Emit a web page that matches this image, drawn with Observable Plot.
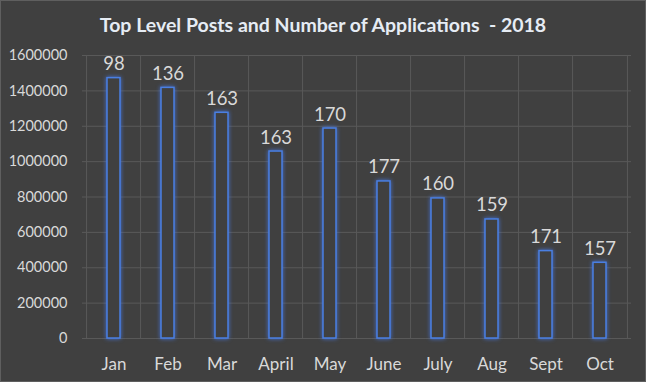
<!DOCTYPE html>
<html><head><meta charset="utf-8">
<script src="https://cdn.jsdelivr.net/npm/d3@7"></script>
<script src="https://cdn.jsdelivr.net/npm/@observablehq/plot@0.6"></script>
<style>
html,body{margin:0;padding:0;background:#404040;}
#wrap{width:646px;height:382px;position:relative;overflow:hidden;background:#404040;font-family:Lato,"Open Sans",sans-serif;}
#title{position:absolute;left:0;top:0;width:646px;height:44px;line-height:49px;text-align:center;font-weight:bold;font-size:19.5px;color:#e6ecf4;}
#chart{position:absolute;left:0;top:44px;}
#border{position:absolute;left:0;top:0;width:646px;height:382px;box-sizing:border-box;border:1px solid #5f5f5f;pointer-events:none;}
[aria-label^="y-axis"] text{font-size:14.5px;}
[aria-label^="x-axis"] text{font-size:17px;}
g[aria-label="bar"] rect{filter:drop-shadow(0 0 2px rgba(70,120,230,0.9));}
</style>
</head><body>
<div id="wrap">
  <div id="title">Top Level Posts and Number of Applications&nbsp; - 2018</div>
  <div id="chart"></div>
  <div id="border"></div>
</div>
<script>
const months = ["Jan","Feb","Mar","April","May","June","July","Aug","Sept","Oct"];
const applications = [1472000,1417000,1276000,1057000,1187000,888000,792000,673000,494000,428000];
const posts = [98,136,163,163,170,177,160,159,171,157];
const yTicks = [0,200000,400000,600000,800000,1000000,1200000,1400000,1600000];

const data = months.map((m,i)=>({month:m, apps:applications[i], posts:posts[i]}));
const W = 646, H = 338, mL = 82, mR = 15, mT = 11, mB = 44;
const step = (W - mL - mR) / months.length;
const grid = "#595959";

const chart = Plot.plot({
  width: W, height: H,
  marginLeft: mL, marginRight: mR, marginTop: mT, marginBottom: mB,
  style: {background: "#404040", color: "#d9d9d9", fontFamily: "Lato, 'Open Sans', sans-serif", overflow: "visible"},
  x: {domain: months, paddingInner: 0.76, paddingOuter: 0.38, tickSize: 0, tickPadding: 19, label: null},
  y: {domain: [0,1600000], ticks: yTicks, tickFormat: d => String(d), tickSize: 0, tickPadding: 15, label: null},
  marks: [
    Plot.ruleY(yTicks, {stroke: grid, strokeWidth: 1}),
    Plot.ruleX(months, {x: d => d, dx: -step/2, stroke: grid}),
    Plot.ruleX([months[months.length-1]], {x: d => d, dx: step/2, stroke: grid}),
    Plot.barY(data, {x: "month", y: "apps", fill: "#404040", stroke: "#4a7fe2", strokeWidth: 1.5}),
    Plot.text(data, {x: "month", y: "apps", text: d => String(d.posts), dy: -8, lineAnchor: "bottom", fill: "#d9d9d9", fontSize: 18.5})
  ]
});
document.getElementById("chart").appendChild(chart);
</script>
</body></html>
